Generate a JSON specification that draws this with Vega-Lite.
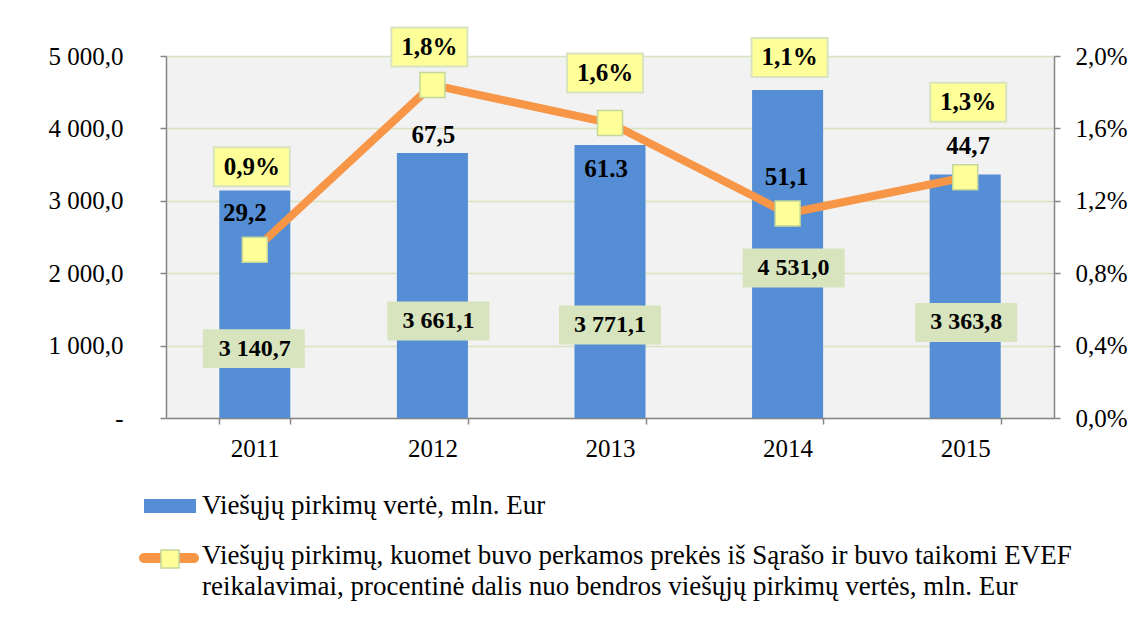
{
  "$schema": "https://vega.github.io/schema/vega-lite/v6.json",
  "width": 888,
  "height": 362,
  "autosize": {"type": "none"},
  "padding": {"left": 166, "top": 56, "right": 90, "bottom": 203},
  "background": "white",
  "data": {
    "values": [
      {"year": "2011", "value": 3140.7, "pct": 0.0093, "evef": "29,2"},
      {"year": "2012", "value": 3661.1, "pct": 0.0184, "evef": "67,5"},
      {"year": "2013", "value": 3771.1, "pct": 0.0163, "evef": "61.3"},
      {"year": "2014", "value": 4531.0, "pct": 0.0113, "evef": "51,1"},
      {"year": "2015", "value": 3363.8, "pct": 0.0133, "evef": "44,7"}
    ]
  },
  "encoding": {
    "x": {
      "field": "year",
      "type": "nominal",
      "scale": {"paddingInner": 0.6, "paddingOuter": 0.3},
      "axis": {
        "title": null,
        "labelAngle": 0,
        "labelFont": "Liberation Serif",
        "labelFontSize": 25,
        "labelColor": "black",
        "labelPadding": 12,
        "tickBand": "extent",
        "tickSize": 6,
        "tickColor": "#868686",
        "tickWidth": 1.5,
        "domainColor": "#868686",
        "domainWidth": 1.5,
        "grid": false
      }
    }
  },
  "layer": [
    {
      "encoding": {
        "y": {
          "field": "value",
          "type": "quantitative",
          "scale": {"domain": [0, 5000]},
          "axis": {
            "orient": "left",
            "title": null,
            "values": [0, 1000, 2000, 3000, 4000, 5000],
            "format": ",.1f",
            "labelExpr": "datum.value == 0 ? '-\u2002' : datum.label",
            "labelFont": "Liberation Serif",
            "labelFontSize": 25,
            "labelColor": "black",
            "labelPadding": 37,
            "tickSize": 6,
            "tickColor": "#868686",
            "tickWidth": 1.5,
            "domainColor": "#868686",
            "domainWidth": 1.5,
            "grid": true,
            "gridColor": "#D7E4BD",
            "gridWidth": 1.5
          }
        }
      },
      "layer": [
        {
          "mark": {"type": "bar"},
          "encoding": {
            "color": {
              "datum": "Viešųjų pirkimų vertė, mln. Eur",
              "scale": {"range": ["#558ED5"]},
              "legend": {
                "orient": "none",
                "legendX": -22,
                "legendY": 424,
                "title": null,
                "padding": 0,
                "symbolType": "M-1,-0.27H1V0.27H-1Z",
                "symbolSize": 2704,
                "symbolStrokeWidth": 0,
                "labelOffset": 6,
                "labelFont": "Liberation Serif",
                "labelFontSize": 27,
                "labelColor": "black",
                "labelLimit": 2000,
                "encode": {
                  "labels": {"update": {"font": {"value": "Liberation Serif"}, "fontSize": {"value": 27}}}
                }
              }
            }
          }
        },
        {
          "mark": {
            "type": "point",
            "shape": "M-1,-0.382H1V0.382H-1Z",
            "size": 10404,
            "filled": true,
            "fill": "#D7E4BD",
            "opacity": 1,
            "strokeWidth": 0,
            "xOffset": {"expr": "[-1, 6, 0, 6, 1][indexof(['2011','2012','2013','2014','2015'], datum.year)]"},
            "yOffset": {"expr": "[158, 168, 180, 178, 148][indexof(['2011','2012','2013','2014','2015'], datum.year)]"}
          }
        },
        {
          "mark": {
            "type": "text",
            "font": "Liberation Serif",
            "fontSize": 24,
            "fontWeight": "bold",
            "color": "black",
            "baseline": "middle",
            "xOffset": {"expr": "[0, 6, 0, 6, 1][indexof(['2011','2012','2013','2014','2015'], datum.year)]"},
            "yOffset": {"expr": "[158, 168, 180, 178, 148][indexof(['2011','2012','2013','2014','2015'], datum.year)]"}
          },
          "encoding": {"text": {"field": "value", "format": ",.1f"}}
        }
      ]
    },
    {
      "encoding": {
        "y": {
          "field": "pct",
          "type": "quantitative",
          "scale": {"domain": [0, 0.02]},
          "axis": {
            "orient": "right",
            "title": null,
            "values": [0, 0.004, 0.008, 0.012, 0.016, 0.02],
            "format": ".1%",
            "labelFont": "Liberation Serif",
            "labelFontSize": 25,
            "labelColor": "black",
            "labelPadding": 15,
            "tickSize": 6,
            "tickColor": "#868686",
            "tickWidth": 1.5,
            "domainColor": "#868686",
            "domainWidth": 1.5,
            "grid": false
          }
        }
      },
      "layer": [
        {
          "mark": {"type": "line", "strokeWidth": 8},
          "encoding": {
            "stroke": {
              "datum": "Viešųjų pirkimų, kuomet buvo perkamos prekės iš Sąrašo ir buvo taikomi EVEF reikalavimai, procentinė dalis nuo bendros viešųjų pirkimų vertės, mln. Eur",
              "scale": {"range": ["#F79646"]},
              "legend": {
                "orient": "none",
                "legendX": -27,
                "legendY": 472,
                "title": null,
                "padding": 0,
                "symbolType": "M-0.833,-0.167H0.833A0.167,0.167 0 0 1 0.833,0.167H-0.833A0.167,0.167 0 0 1 -0.833,-0.167Z",
                "symbolSize": 3600,
                "symbolFillColor": "#F79646",
                "symbolStrokeWidth": 0,
                "labelOffset": 3,
                "labelFont": "Liberation Serif",
                "labelFontSize": 27,
                "labelColor": "black",
                "labelLimit": 2000,
                "labelExpr": "['Viešųjų pirkimų, kuomet buvo perkamos prekės iš Sąrašo ir buvo taikomi EVEF', 'reikalavimai, procentinė dalis nuo bendros viešųjų pirkimų vertės, mln. Eur']",
                "encode": {
                  "symbols": {"update": {"fill": {"value": "#F79646"}, "stroke": {"value": "transparent"}, "strokeWidth": {"value": 0}}},
                  "labels": {"update": {"dy": {"value": -2}, "lineHeight": {"value": 31}, "font": {"value": "Liberation Serif"}, "fontSize": {"value": 27}}}
                }
              }
            }
          }
        },
        {
          "mark": {"type": "point", "filled": true, "fill": "#FFFF99", "stroke": "#C3D69B", "strokeWidth": 1.5, "size": 625, "opacity": 1},
          "encoding": {
            "shape": {
              "datum": "sq",
              "scale": {"range": ["square"]},
              "legend": {
                "orient": "none",
                "legendX": -6,
                "legendY": 493,
                "title": null,
                "padding": 0,
                "symbolSize": 324,
                "labelExpr": "''",
                "labelFontSize": 1,
                "encode": {
                  "symbols": {"update": {"fill": {"value": "#FFFF99"}, "stroke": {"value": "#C3D69B"}, "strokeWidth": {"value": 1.5}, "opacity": {"value": 1}}}
                }
              }
            }
          }
        },
        {
          "mark": {
            "type": "point",
            "shape": "M-1,-0.513H1V0.513H-1Z",
            "size": 5776,
            "filled": true,
            "fill": "#FFFF99",
            "stroke": "#D7E4BD",
            "strokeWidth": 2,
            "opacity": 1,
            "xOffset": {"expr": "[-3, -3, -5, 2, 3][indexof(['2011','2012','2013','2014','2015'], datum.year)]"},
            "yOffset": {"expr": "[-83, -38, -50, -156, -75][indexof(['2011','2012','2013','2014','2015'], datum.year)]"}
          }
        },
        {
          "mark": {
            "type": "text",
            "font": "Liberation Serif",
            "fontSize": 25,
            "fontWeight": "bold",
            "color": "black",
            "baseline": "middle",
            "xOffset": {"expr": "[-3, -3, -5, 2, 3][indexof(['2011','2012','2013','2014','2015'], datum.year)]"},
            "yOffset": {"expr": "[-83, -38, -50, -156, -75][indexof(['2011','2012','2013','2014','2015'], datum.year)]"}
          },
          "encoding": {"text": {"field": "pct", "format": ".1%"}}
        },
        {
          "mark": {
            "type": "text",
            "font": "Liberation Serif",
            "fontSize": 25,
            "fontWeight": "bold",
            "color": "black",
            "baseline": "middle",
            "xOffset": {"expr": "[-10, 1, -4, -1, 3][indexof(['2011','2012','2013','2014','2015'], datum.year)]"},
            "yOffset": {"expr": "[-37, 50, 46, -36, -31][indexof(['2011','2012','2013','2014','2015'], datum.year)]"}
          },
          "encoding": {"text": {"field": "evef"}}
        }
      ]
    }
  ],
  "resolve": {"scale": {"y": "independent", "color": "independent", "stroke": "independent", "shape": "independent"}},
  "config": {
    "locale": {"number": {"decimal": ",", "thousands": " ", "grouping": [3], "currency": ["", ""]}},
    "font": "Liberation Serif",
    "legend": {"labelFont": "Liberation Serif"},
    "view": {"fill": "#F2F2F2", "stroke": null}
  }
}
